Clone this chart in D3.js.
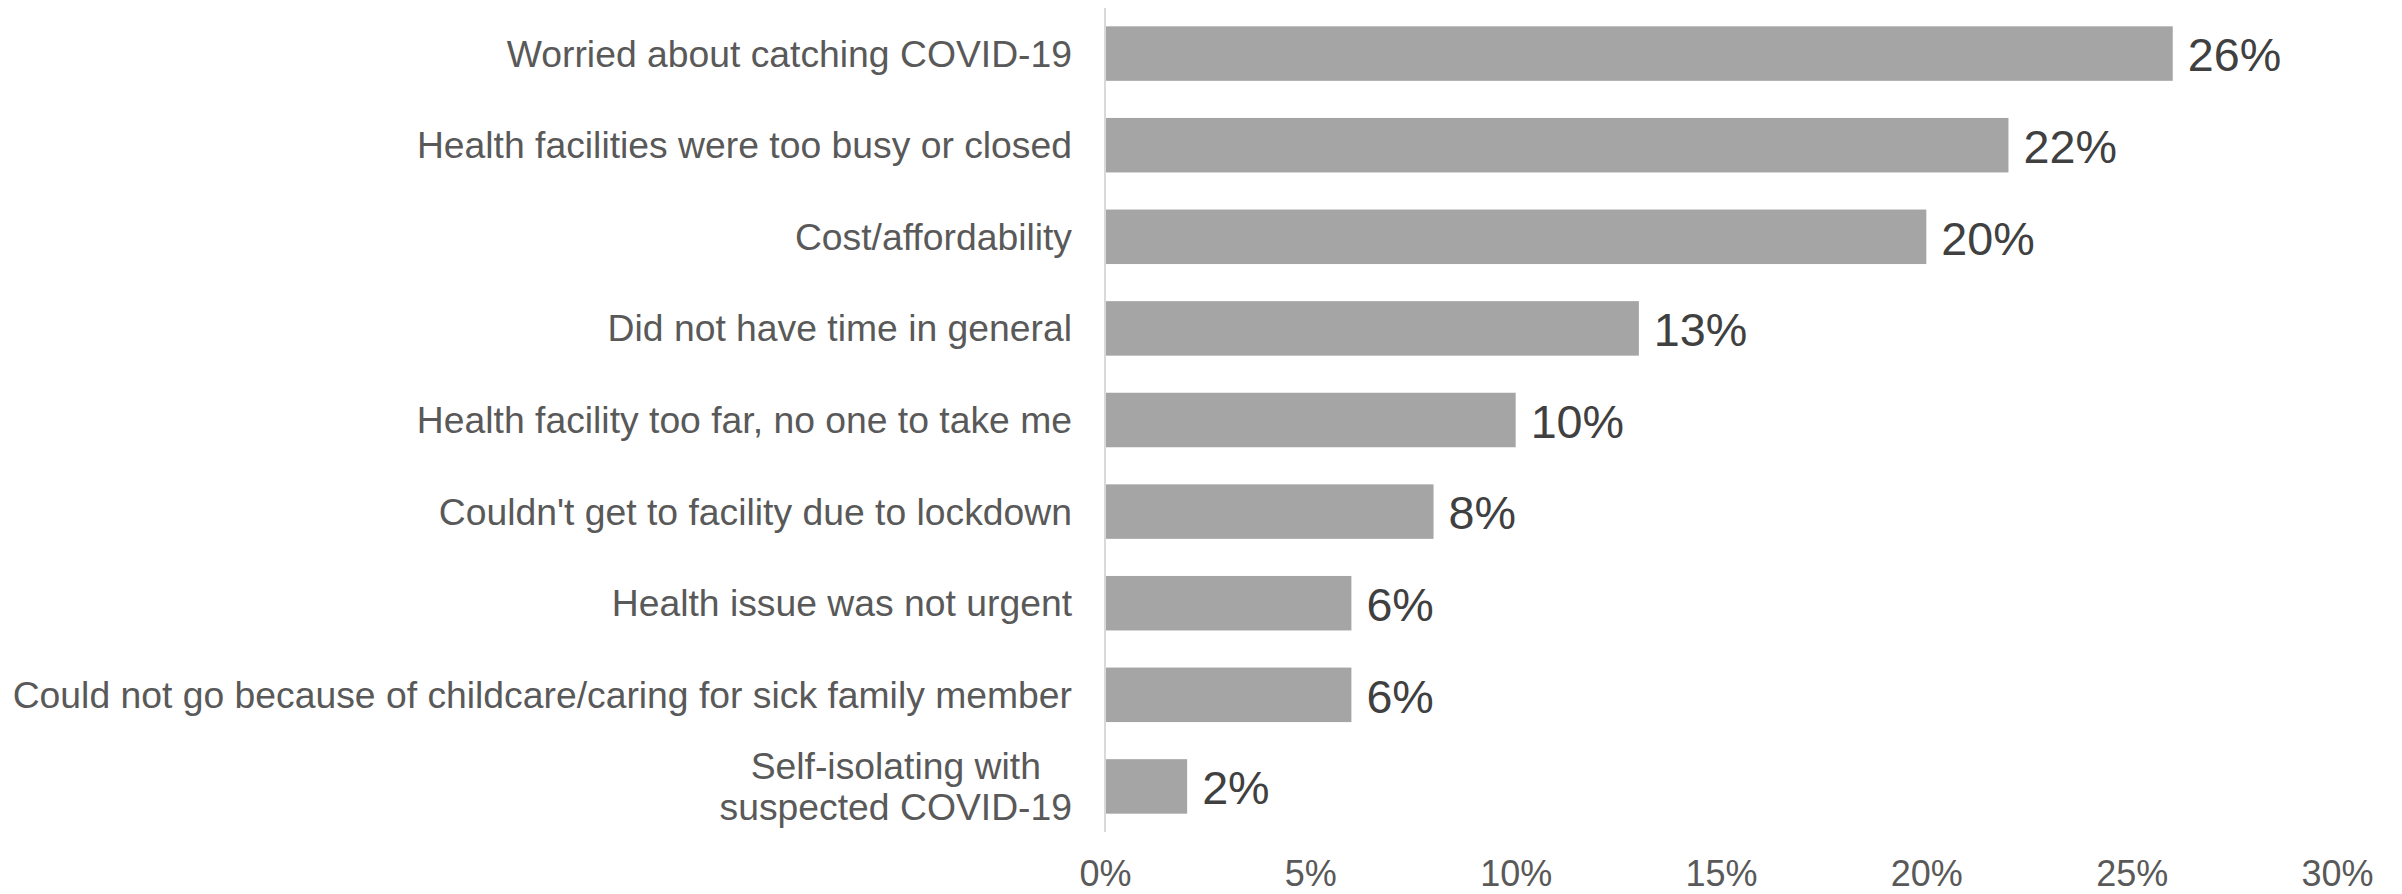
<!DOCTYPE html>
<html>
<head>
<meta charset="utf-8">
<script src="https://cdn.jsdelivr.net/npm/d3@7"></script>
<style>
  html, body { margin: 0; padding: 0; background: #fff; }
  svg { display: block; font-family: "Liberation Sans", Arial, sans-serif; }
</style>
</head>
<body>
<svg id="chart" width="2402" height="894"></svg>
<script>
// Reasons for not seeking care (share of respondents)
const categories = [
  "Worried about catching COVID-19",
  "Health facilities were too busy or closed",
  "Cost/affordability",
  "Did not have time in general",
  "Health facility too far, no one to take me",
  "Couldn't get to facility due to lockdown",
  "Health issue was not urgent",
  "Could not go because of childcare/caring for sick family member",
  "Self-isolating with\nsuspected COVID-19"
];
const values = [26, 22, 20, 13, 10, 8, 6, 6, 2];
const tickValues = [0, 5, 10, 15, 20, 25, 30];

const svg = d3.select("#chart");
const margin = { left: 1105, right: 65, top: 8, bottom: 62 };
const W = +svg.attr("width"), H = +svg.attr("height");

const x = d3.scaleLinear().domain([0, 30]).range([margin.left, W - margin.right]);
const y = d3.scaleBand().domain(categories).range([margin.top, H - margin.bottom])
  .paddingInner(0.405).paddingOuter(0.2);

// bars
svg.append("g").selectAll("rect")
  .data(categories)
  .join("rect")
  .attr("x", x(0))
  .attr("y", d => y(d))
  .attr("width", (d, i) => x(values[i]) - x(0))
  .attr("height", y.bandwidth())
  .attr("fill", "#a5a5a5");

// vertical category axis line
svg.append("line")
  .attr("x1", x(0)).attr("x2", x(0))
  .attr("y1", margin.top).attr("y2", H - margin.bottom)
  .attr("stroke", "#d9d9d9").attr("stroke-width", 2);

// value labels
svg.append("g").selectAll("text")
  .data(categories)
  .join("text")
  .attr("x", (d, i) => x(values[i]) + 15)
  .attr("y", d => y(d) + y.bandwidth() / 2)
  .attr("dy", "0.38em")
  .attr("font-size", 46.7)
  .attr("fill", "#404040")
  .text((d, i) => values[i] + "%");

// category labels (multi-line labels are centred on their widest line)
const labelRight = x(0) - 33;
const lineH = 41;
const labels = svg.append("g");
categories.forEach(c => {
  const lines = c.split("\n");
  const cy = y(c) + y.bandwidth() / 2;
  const t = labels.append("text")
    .attr("font-size", 37.3)
    .attr("fill", "#595959");
  lines.forEach((ln, j) => {
    t.append("tspan")
      .attr("y", cy + (j - (lines.length - 1) / 2) * lineH)
      .attr("dy", "0.35em")
      .text(ln);
  });
  if (lines.length === 1) {
    t.attr("text-anchor", "end").selectAll("tspan").attr("x", labelRight);
  } else {
    const widths = [];
    t.selectAll("tspan").each(function () { widths.push(this.getComputedTextLength()); });
    const maxW = d3.max(widths);
    t.attr("text-anchor", "middle").selectAll("tspan").attr("x", labelRight - maxW / 2);
  }
});

// x axis tick labels
const xAxis = d3.axisBottom(x)
  .tickValues(tickValues)
  .tickFormat(d => d + "%")
  .tickSize(0)
  .tickPadding(0);
const gx = svg.append("g")
  .attr("transform", `translate(0, ${H - 8.5})`)
  .call(xAxis);
gx.select(".domain").remove();
gx.selectAll("text")
  .attr("dy", null)
  .attr("y", 0)
  .attr("font-size", 36)
  .attr("font-family", "\"Liberation Sans\", Arial, sans-serif")
  .attr("fill", "#595959");
</script>
</body>
</html>
